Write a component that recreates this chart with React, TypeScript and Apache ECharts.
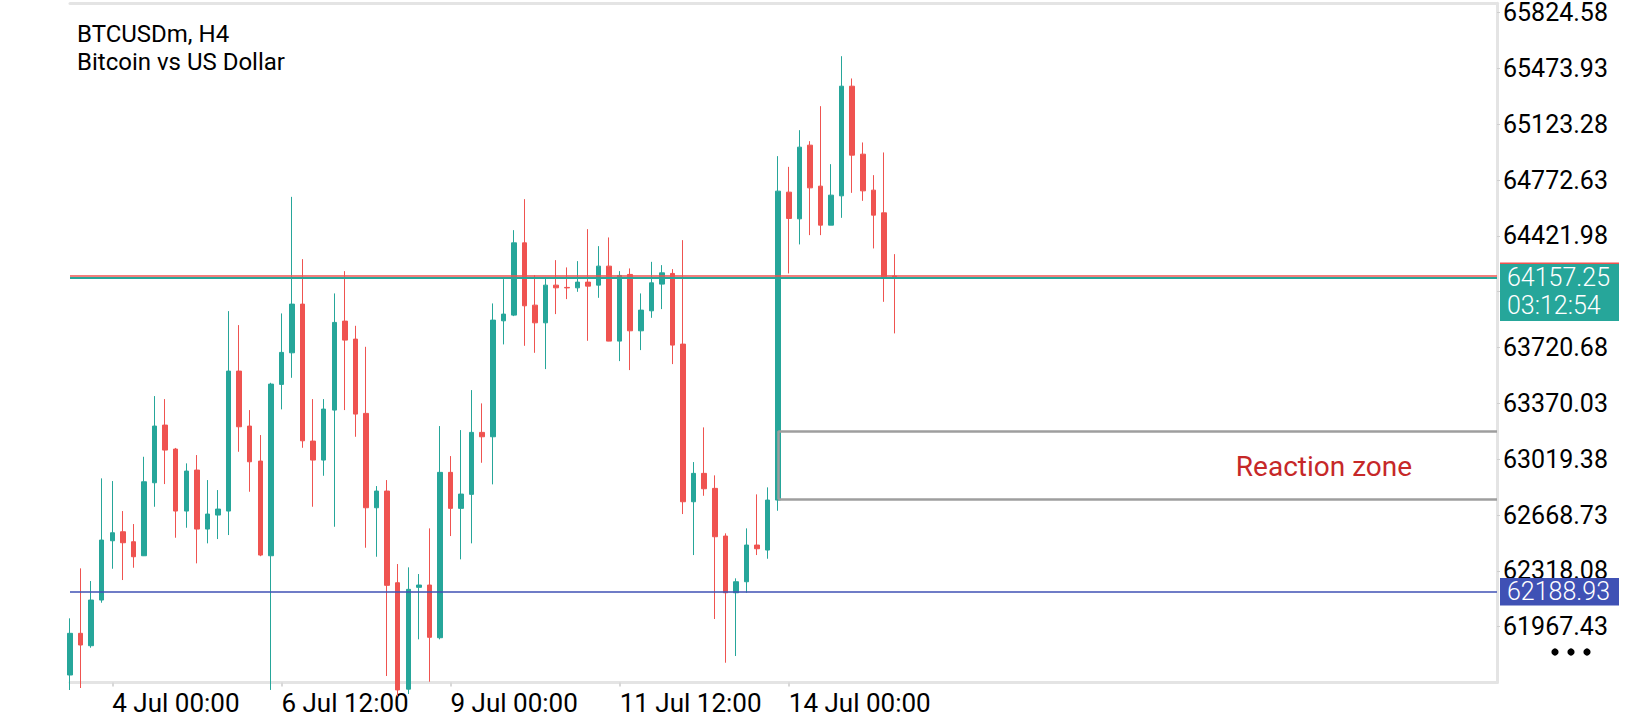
import React, { useEffect, useRef } from "react";
import * as echarts from "echarts";

// ---- data ----
const opens = [
  61663.8, 61925.6, 61847.8, 62134.7, 62507.0, 62563.5, 62500.8, 62412.8, 62871.2, 63233.4,
  63082.8, 62693.5, 62950.9, 62580.5, 62668.4, 62693.5, 63572.5, 63227.2, 63007.4, 62412.8,
  63489.0, 63687.4, 63993.1, 63133.0, 63013.7, 63327.6, 63886.4, 63773.4, 63306.9, 62714.2,
  62819.1, 62243.3, 61575.0, 62214.4, 62228.9, 61898.0, 62936.5, 62710.4, 62798.3, 63187.6,
  63160.0, 63888.3, 63924.1, 64378.0, 63986.8, 63875.7, 64112.4, 64098.0, 64095.5, 64131.3,
  64112.4, 64231.7, 63760.8, 64179.6, 63825.5, 63951.1, 64118.7, 64185.9, 63742.0, 62751.9,
  62930.2, 62836.0, 62536.5, 62180.5, 62249.6, 62480.0, 62448.6, 62762.5, 64696.3, 64528.7,
  64991.4, 64734.0, 64489.1, 64673.1, 65361.8, 64934.9, 64708.9, 64566.4, 64170.0,
];
const closes = [
  61925.6, 61852.2, 62134.7, 62511.4, 62557.2, 62494.5, 62406.6, 62877.4, 63227.2, 63076.5,
  62693.5, 62944.6, 62580.5, 62674.7, 62706.0, 63572.5, 63222.8, 63003.0, 62417.2, 63490.8,
  63689.9, 63993.1, 63134.8, 63013.7, 63333.9, 63878.2, 63767.1, 63302.5, 62714.2, 62819.1,
  62227.0, 61570.0, 62201.8, 62228.9, 61900.5, 62936.5, 62710.4, 62800.2, 63187.6, 63160.0,
  63892.7, 63930.4, 64378.0, 63982.5, 63875.7, 64112.4, 64095.5, 64095.0, 64131.3, 64106.1,
  64231.7, 63760.8, 64173.3, 63825.5, 63955.5, 64126.9, 64189.6, 63735.7, 62751.9, 62930.2,
  62833.5, 62532.2, 62180.5, 62249.6, 62480.0, 62456.8, 62762.5, 64702.6, 64531.2, 64978.9,
  64723.3, 64489.1, 64677.5, 65361.8, 64928.6, 64704.5, 64551.9, 64164.5, 64157.25,
];
const lows = [
  61569.6, 61582.2, 61835.2, 62117.8, 62331.2, 62260.3, 62337.5, 62411.0, 62720.5, 62863.0,
  62525.9, 62588.6, 62365.1, 62490.7, 62517.7, 62542.8, 63065.8, 62814.7, 62410.0, 61570.0,
  63332.0, 63530.4, 63090.9, 62720.5, 62915.1, 62594.9, 63327.6, 63160.0, 62463.1, 62406.6,
  61657.5, 61530.0, 61545.0, 61888.0, 61621.7, 61888.0, 62536.5, 62390.2, 62490.7, 62996.7,
  62861.1, 63740.1, 63917.8, 63731.3, 63687.4, 63585.0, 63930.4, 64024.5, 64070.4, 63762.7,
  64032.7, 63760.0, 63635.3, 63578.8, 63704.3, 63907.1, 63961.7, 63616.4, 62674.7, 62417.2,
  62789.5, 62015.4, 61741.0, 61783.1, 62180.5, 62417.2, 62394.0, 62695.3, 64185.9, 64368.0,
  64426.4, 64426.4, 64489.1, 64535.0, 64691.9, 64641.7, 64342.8, 64007.6, 63809.2,
];
const highs = [
  62019.8, 62333.7, 62254.0, 62898.8, 62881.9, 62693.5, 62611.9, 63034.4, 63415.5, 63396.7,
  63090.0, 62993.0, 63045.1, 62888.1, 62825.3, 63949.2, 63861.3, 63327.6, 63170.7, 63499.0,
  63934.7, 64666.8, 64275.7, 63396.7, 63396.7, 64060.3, 64200.3, 63856.9, 63725.0, 62850.4,
  62888.1, 62360.7, 62339.9, 62297.9, 62584.8, 63227.2, 63038.8, 63202.0, 63453.2, 63369.7,
  63997.5, 64150.1, 64457.7, 64652.4, 64175.2, 64158.3, 64269.4, 64223.6, 64263.1, 64464.0,
  64357.3, 64411.9, 64200.3, 64217.3, 64060.3, 64258.7, 64238.0, 64212.9, 64395.0, 63001.1,
  63219.0, 62917.6, 62553.5, 62270.9, 62584.8, 62798.3, 62842.3, 64922.4, 64855.2, 65085.6,
  65016.5, 65236.3, 64872.1, 65550.2, 65410.2, 65008.4, 64803.1, 64945.6, 64307.1,
];

const SLOT_COUNT = 136; // bar slots across the plot (right part is empty future space)
const tickIndexes = [4, 20, 36, 52, 68];
const tickLabels = ["4 Jul 00:00", "6 Jul 12:00", "9 Jul 00:00", "11 Jul 12:00", "14 Jul 00:00"];

const yTickStart = 61616.78;
const yTickStep = 350.65;
const yMax = 65883;

const bidPrice = 64157.25;
const askPrice = 64169;
const countdown = "03:12:54";
const levelPrice = 62188.93;

const zoneTop = 63195.8;
const zoneBottom = 62766.9;
const zoneStart = 67;
const zoneLabel = "Reaction zone";

const symbolTitle = "BTCUSDm, H4";
const symbolDesc = "Bitcoin vs US Dollar";

const BULL = "#26a69a";
const BEAR = "#ef5350";
const BLUE = "#3f51b5";
const ZONE = "#9e9e9e";
const FRAME = "#e4e4e4";

export default function App() {
  const ref = useRef<HTMLDivElement>(null);

  useEffect(() => {
    if (!ref.current) return;
    const chart = echarts.init(ref.current, undefined, { renderer: "svg" });
    const categories = Array.from({ length: SLOT_COUNT }, (_, i) => String(i));
    const candleData = opens.map((o, i) => [o, closes[i], lows[i], highs[i]]);
    const lastCat = categories[SLOT_COUNT - 1];
    const zoneCat = categories[zoneStart];

    const option: any = {
      animation: false,
      textStyle: { fontFamily: "Roboto" },
      title: {
        text: symbolTitle + "\n" + symbolDesc,
        left: 77,
        top: 20,
        padding: 0,
        textStyle: { fontSize: 24, fontWeight: "normal", color: "#000", lineHeight: 28, fontFamily: "Roboto" },
      },
      grid: { left: 70, right: 143, top: 3, bottom: 37.5 },
      xAxis: [
        {
          type: "category",
          data: categories,
          boundaryGap: false,
          axisLine: { show: true, lineStyle: { color: FRAME, width: 3 } },
          axisTick: {
            show: true,
            interval: (i: number) => tickIndexes.includes(i),
            length: 4,
            lineStyle: { color: "#d8d8d8", width: 2 },
          },
          axisLabel: {
            show: true,
            interval: (i: number) => tickIndexes.includes(i),
            formatter: (_v: string, i: number) => {
              const k = tickIndexes.indexOf(i);
              return k >= 0 ? tickLabels[k] : "";
            },
            align: "left",
            margin: 7,
            fontSize: 26,
            color: "#000",
            fontFamily: "Roboto",
          },
          splitLine: { show: false },
        },
        {
          type: "category",
          data: categories,
          boundaryGap: false,
          position: "top",
          axisLine: { show: true, lineStyle: { color: FRAME, width: 3 } },
          axisTick: { show: false },
          axisLabel: { show: false },
          splitLine: { show: false },
        },
      ],
      yAxis: {
        type: "value",
        position: "right",
        min: yTickStart,
        max: yMax,
        interval: yTickStep,
        axisLine: { show: true, lineStyle: { color: FRAME, width: 3 } },
        axisTick: { show: true, length: 3, lineStyle: { color: "#cfcfcf" } },
        axisLabel: {
          margin: 6,
          fontSize: 25,
          color: "#000",
          fontFamily: "Roboto",
          showMinLabel: false,
          showMaxLabel: false,
          // the tick just under the live price is covered by the price box in the reference
          formatter: (v: number) => (v < bidPrice + 90 && v > bidPrice - 270 ? "" : v.toFixed(2)),
        },
        splitLine: { show: false },
      },
      series: [
        {
          type: "candlestick",
          data: candleData,
          barWidth: 5,
          clip: true,
          itemStyle: {
            color: BULL,
            color0: BEAR,
            borderColor: BULL,
            borderColor0: BEAR,
            borderWidth: 1,
          },
          markLine: {
            silent: true,
            symbol: ["none", "none"],
            label: { show: false },
            animation: false,
            data: [
              { yAxis: askPrice, lineStyle: { color: BEAR, width: 1.6, type: "solid" } },
              { yAxis: bidPrice, lineStyle: { color: BULL, width: 2, type: "solid" } },
              { yAxis: levelPrice, lineStyle: { color: BLUE, width: 1.6, type: "solid" } },
              [
                { coord: [zoneCat, zoneTop], lineStyle: { color: ZONE, width: 2.5, type: "solid" } },
                { coord: [lastCat, zoneTop] },
              ],
              [
                { coord: [zoneCat, zoneBottom], lineStyle: { color: ZONE, width: 2.5, type: "solid" } },
                { coord: [lastCat, zoneBottom] },
              ],
              [
                { coord: [zoneCat, zoneTop], lineStyle: { color: ZONE, width: 2.5, type: "solid" } },
                { coord: [zoneCat, zoneBottom] },
              ],
            ],
          },
        },
      ],
    };
    chart.setOption(option);

    const py = (v: number) => chart.convertToPixel({ yAxisIndex: 0 }, v) as number;
    const pBid = py(bidPrice);
    const pLevel = py(levelPrice);
    const pZone = (py(zoneTop) + py(zoneBottom)) / 2;
    const boxX = 1500;
    const boxW = 119;

    chart.setOption({
      graphic: [
        { type: "rect", z: 100, shape: { x: boxX, y: pBid - 15.5, width: boxW, height: 2 }, style: { fill: BEAR } },
        { type: "rect", z: 100, shape: { x: boxX, y: pBid - 14, width: boxW, height: 57 }, style: { fill: BULL } },
        {
          type: "text", z: 101, x: boxX + 7, y: pBid,
          style: { text: bidPrice.toFixed(2), fill: "#fff", fontSize: 25, fontWeight: 300, fontFamily: "Roboto", verticalAlign: "middle", align: "left" },
        },
        {
          type: "text", z: 101, x: boxX + 7, y: pBid + 28,
          style: { text: countdown, fill: "#fff", fontSize: 25, fontWeight: 300, fontFamily: "Roboto", verticalAlign: "middle", align: "left" },
        },
        { type: "rect", z: 100, shape: { x: boxX, y: pLevel - 13.5, width: boxW, height: 27.5 }, style: { fill: BLUE } },
        {
          type: "text", z: 101, x: boxX + 7, y: pLevel + 0.5,
          style: { text: levelPrice.toFixed(2), fill: "#fff", fontSize: 25, fontWeight: 300, fontFamily: "Roboto", verticalAlign: "middle", align: "left" },
        },
        {
          type: "text", z: 101, x: 1324, y: pZone + 1,
          style: { text: zoneLabel, fill: "#c62828", fontSize: 28, fontFamily: "Roboto", verticalAlign: "middle", align: "center" },
        },
        { type: "circle", z: 101, shape: { cx: 1555, cy: 652, r: 3.6 }, style: { fill: "#000" } },
        { type: "circle", z: 101, shape: { cx: 1571, cy: 652, r: 3.6 }, style: { fill: "#000" } },
        { type: "circle", z: 101, shape: { cx: 1587, cy: 652, r: 3.6 }, style: { fill: "#000" } },
      ],
    });

    return () => chart.dispose();
  }, []);

  return (
    <div
      ref={ref}
      style={{ position: "fixed", left: 0, top: 0, width: 1640, height: 720, background: "#fff" }}
    />
  );
}
